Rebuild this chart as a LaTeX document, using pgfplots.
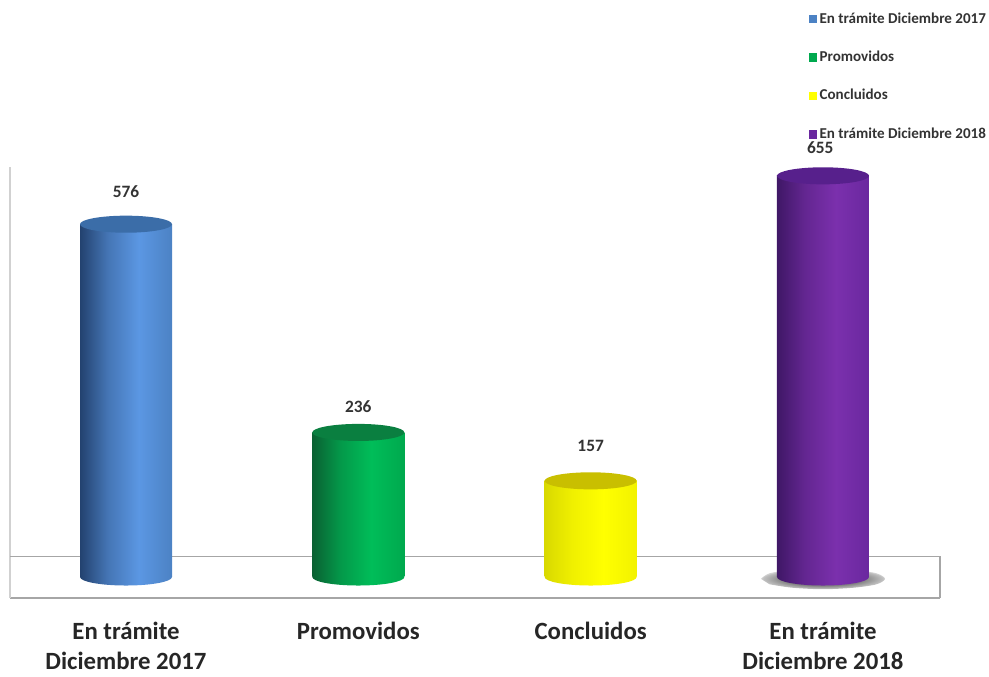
\documentclass[border=0pt]{standalone}
\usepackage{fontspec}
\setmainfont{Carlito}
\usepackage{pgfplots}
\pgfplotsset{compat=1.18}

% visible part of a shading is 25bp..75bp
\newcommand{\cylshade}[4]{%
  \pgfdeclarehorizontalshading{#1}{100bp}{color(0bp)=(#2); color(25bp)=(#2); color(40bp)=(#3!60!#2); color(57bp)=(#3); color(75bp)=(#4); color(100bp)=(#4)}}
\definecolor{bluedark}{HTML}{23426F}\definecolor{bluemid}{HTML}{5B97E3}\definecolor{blueend}{HTML}{4C82C4}
\definecolor{greendark}{HTML}{0A6132}\definecolor{greenmid}{HTML}{00BD59}\definecolor{greenend}{HTML}{00A94E}
\definecolor{yelldark}{HTML}{D9D900}\definecolor{yellmid}{HTML}{FFFF00}\definecolor{yellend}{HTML}{F2F200}
\definecolor{purpdark}{HTML}{3F1766}\definecolor{purpmid}{HTML}{7B30AD}\definecolor{purpend}{HTML}{6A289F}
\definecolor{bluecap}{HTML}{3B6DA8}\definecolor{greencap}{HTML}{0A7F40}\definecolor{yellcap}{HTML}{C9BF00}\definecolor{purpcap}{HTML}{57208C}
\cylshade{cylblue}{bluedark}{bluemid}{blueend}
\cylshade{cylgreen}{greendark}{greenmid}{greenend}
\cylshade{cylyell}{yelldark}{yellmid}{yellend}
\cylshade{cylpurp}{purpdark}{purpmid}{purpend}
\pgfdeclareradialshading{softshadow}{\pgfpoint{0bp}{0bp}}{color(0bp)=(black!55); color(16bp)=(black!50); color(24bp)=(black!25); color(25bp)=(black!18); color(50bp)=(black!18)}

\newcommand{\capmark}[2]{%
  \pgfdeclareplotmark{#1}{%
    \pgfpathellipse{\pgfpointorigin}{\pgfqpoint{34.5pt}{0pt}}{\pgfqpoint{0pt}{6.4pt}}%
    \pgfshadepath{#2}{0}\pgfusepath{discard}}}
\capmark{baseblue}{cylblue}
\capmark{basegreen}{cylgreen}
\capmark{baseyell}{cylyell}
\capmark{basepurp}{cylpurp}
\pgfdeclareplotmark{capfill}{%
  \pgfpathellipse{\pgfpointorigin}{\pgfqpoint{34.5pt}{0pt}}{\pgfqpoint{0pt}{6.4pt}}\pgfusepathqfill}

\pgfplotsset{
  cyl/.style={ybar, bar width=69pt, bar shift=0pt, draw=none, shading=#1, forget plot,
    mark=none, nodes near coords,
    every node near coord/.append style={font=\fontsize{13}{15}\selectfont\bfseries, text=black!80}},
  ends/.style={only marks, mark=#1, forget plot},
  legsq/.style={legend image code/.code={\fill[#1] (0pt,-2.8pt) rectangle (5.6pt,2.8pt);}},
}

\begin{document}
\begin{tikzpicture}
\path[use as bounding box] (0,0) rectangle (741.75pt,507.75pt);
\begin{axis}[
    at={(7.5pt,59.25pt)}, anchor=south west,
    scale only axis, width=697.5pt, height=323.25pt,
    xmin=-0.4993, xmax=3.5037, ymin=-34.3, ymax=669.4,
    axis x line=bottom, axis y line=left,
    axis line style={-, line width=1pt, draw=black!35},
    y axis line style={draw=black!18},
    xtick={0,1,2,3},
    xticklabels={{En trámite\\Diciembre 2017},{Promovidos},{Concluidos},{En trámite\\Diciembre 2018}},
    xticklabel style={align=center, text=black!85, font=\fontsize{18.6}{22.5}\selectfont\bfseries, yshift=-14.5pt},
    ytick=\empty, major tick length=0pt,
    /pgf/number format/assume math mode=true,
    clip=false,
    legend style={at={(0.8585,1.366)}, anchor=north west, draw=none, fill=none,
        font=\fontsize{11.3}{12}\selectfont\bfseries, text=black!80, row sep=15.0pt,
        inner sep=0pt, nodes={inner sep=2.2pt}},
    legend cell align=left,
]
\addlegendimage{legsq=blueend}\addlegendentry{En trámite Diciembre 2017}
\addlegendimage{legsq=greenend}\addlegendentry{Promovidos}
\addlegendimage{legsq=yellmid}\addlegendentry{Concluidos}
\addlegendimage{legsq=purpend}\addlegendentry{En trámite Diciembre 2018}

% floor of the chart
\addplot[forget plot, line width=1pt, draw=black!35] coordinates {(-0.4993,33.0) (3.5037,33.0) (3.5037,-34.3)};

% shadow under the last bar, outline in data units
\addplot[forget plot, smooth, draw=none, shading=softshadow] coordinates {
  (2.733,-3) (2.77,6) (2.867,11.5) (3,14) (3.133,11.5) (3.23,6) (3.267,-3)
  (3.23,-12) (3.133,-17.5) (3,-20) (2.867,-17.5) (2.77,-12)} -- cycle;

\addplot[cyl=cylblue, every node near coord/.append style={yshift=16.5pt}] coordinates {(0,576)};
\addplot[cyl=cylgreen, every node near coord/.append style={yshift=11pt}] coordinates {(1,236)};
\addplot[cyl=cylyell, every node near coord/.append style={yshift=18pt}] coordinates {(2,157)};
\addplot[cyl=cylpurp, every node near coord/.append style={yshift=13pt, xshift=-2pt}] coordinates {(3,655)};

\addplot[ends=baseblue, mark options={draw=none}] coordinates {(0,0)};
\addplot[ends=basegreen, mark options={draw=none}] coordinates {(1,0)};
\addplot[ends=baseyell, mark options={draw=none}] coordinates {(2,0)};
\addplot[ends=basepurp, mark options={draw=none}] coordinates {(3,0)};

\addplot[ends=capfill, mark options={fill=bluecap, draw=none}] coordinates {(0,576)};
\addplot[ends=capfill, mark options={fill=greencap, draw=none}] coordinates {(1,236)};
\addplot[ends=capfill, mark options={fill=yellcap, draw=none}] coordinates {(2,157)};
\addplot[ends=capfill, mark options={fill=purpcap, draw=none}] coordinates {(3,655)};
\end{axis}
\end{tikzpicture}
\end{document}
